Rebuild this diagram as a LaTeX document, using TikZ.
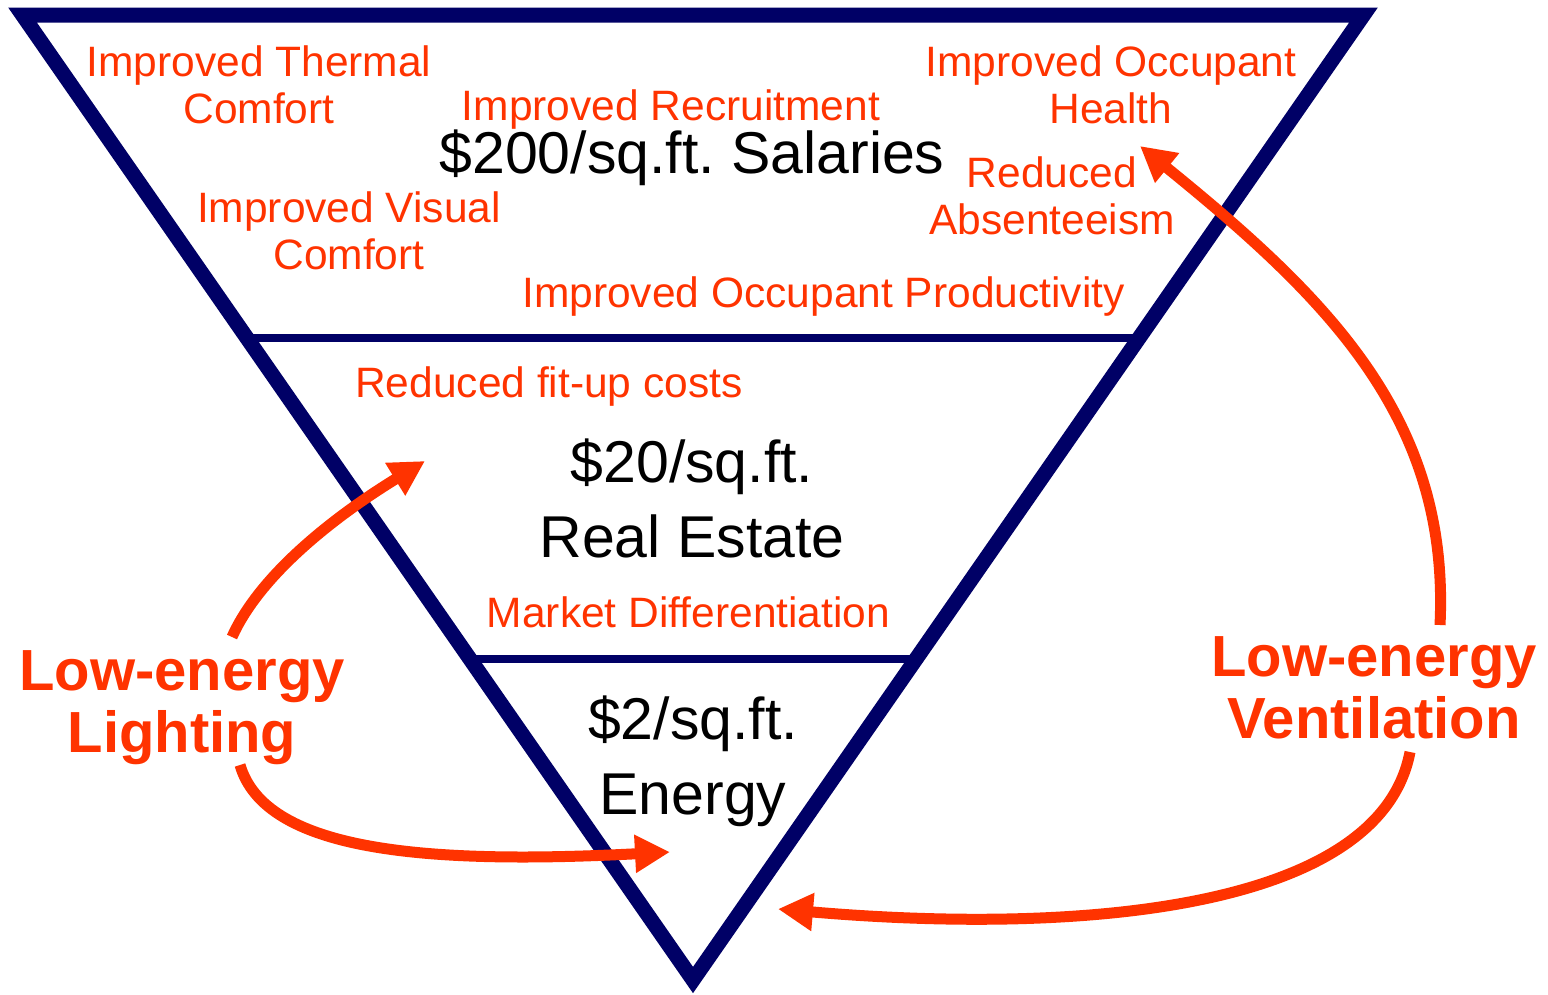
\documentclass[tikz,border=0pt]{standalone}
\usepackage{fontspec}
\setmainfont{Liberation Sans}
\usetikzlibrary{arrows.meta,calc}
\definecolor{navy}{RGB}{0,0,102}
\definecolor{hot}{RGB}{255,51,0}
\frenchspacing

\begin{document}
\begin{tikzpicture}[x=1pt,y=-1pt,
  frame/.style={draw=navy, line width=15pt, line join=miter},
  tier/.style={draw=navy, line width=8pt},
  benefit/.style={text=hot, font=\fontsize{42.5}{47}\selectfont, inner sep=0pt, align=center},
  cost/.style={text=black, font=\fontsize{59}{75}\selectfont, inner sep=0pt, align=center},
  measure/.style={text=hot, font=\bfseries\fontsize{58}{62}\selectfont, inner sep=0pt, align=center},
  gain/.style={draw=hot, line width=11pt, -{Triangle[length=35pt,width=36pt]}},
]
\useasboundingbox (0,0) rectangle (1548,994);

% inverted cost pyramid
\coordinate (tl) at (22.5,15);
\coordinate (tr) at (1363.5,15);
\coordinate (bt) at (693,980);
\draw[frame] (tl) -- (tr) -- (bt) -- cycle;
\draw[tier] ($(tl)!0.3342!(bt)$) -- ($(tr)!0.3342!(bt)$);
\draw[tier] ($(tl)!0.6674!(bt)$) -- ($(tr)!0.6674!(bt)$);

% top tier: salaries
\node[benefit] (thermal) at (259,84.5) {Improved Thermal\\Comfort};
\node[benefit, anchor=base] (recruit) at (671,120) {Improved Recruitment};
\node[cost, anchor=base] (salaries) at (692,173) {\$200/sq.ft. Salaries};
\node[benefit] (health) at (1111,85) {Improved Occupant\\Health};
\node[benefit] (absent) at (1052,195.5) {Reduced\\Absenteeism};
\node[benefit] (visual) at (349,231) {Improved Visual\\Comfort};
\node[benefit, anchor=base] (product) at (823.5,307) {Improved Occupant Productivity};

% middle tier: real estate
\node[benefit, anchor=base] (fitup) at (549,397) {Reduced fit-up costs};
\node[cost] (estate) at (692,498) {\$20/sq.ft.\\Real Estate};
\node[benefit, anchor=base] (market) at (688.5,627) {Market Differentiation};

% bottom tier: energy
\node[cost] (energy) at (693,761) {\$2/sq.ft.\\Energy};

% measures
\node[measure] (lighting) at (182,707.5) {Low-energy\\Lighting};
\node[measure] (ventilation) at (1374,688) {Low-energy\\Ventilation};

% arrow ends
\coordinate (l1) at (232,637);
\coordinate (l2) at (240,765);
\coordinate (v1) at (1440,625);
\coordinate (v2) at (1410,752);
\coordinate (toEstate) at (425,461);
\coordinate (toEnergyL) at (670,852);
\coordinate (toHealth) at (1140,146);
\coordinate (toEnergyV) at (778,909);

\draw[gain] (l1) .. controls (262,570) and (345,510) .. (toEstate);
\draw[gain] (l2) .. controls (265,850) and (420,865) .. (toEnergyL);
\draw[gain] (v1) .. controls (1450,420) and (1330,300) .. (toHealth);
\draw[gain] (v2) .. controls (1380,910) and (1080,935) .. (toEnergyV);
\end{tikzpicture}
\end{document}
